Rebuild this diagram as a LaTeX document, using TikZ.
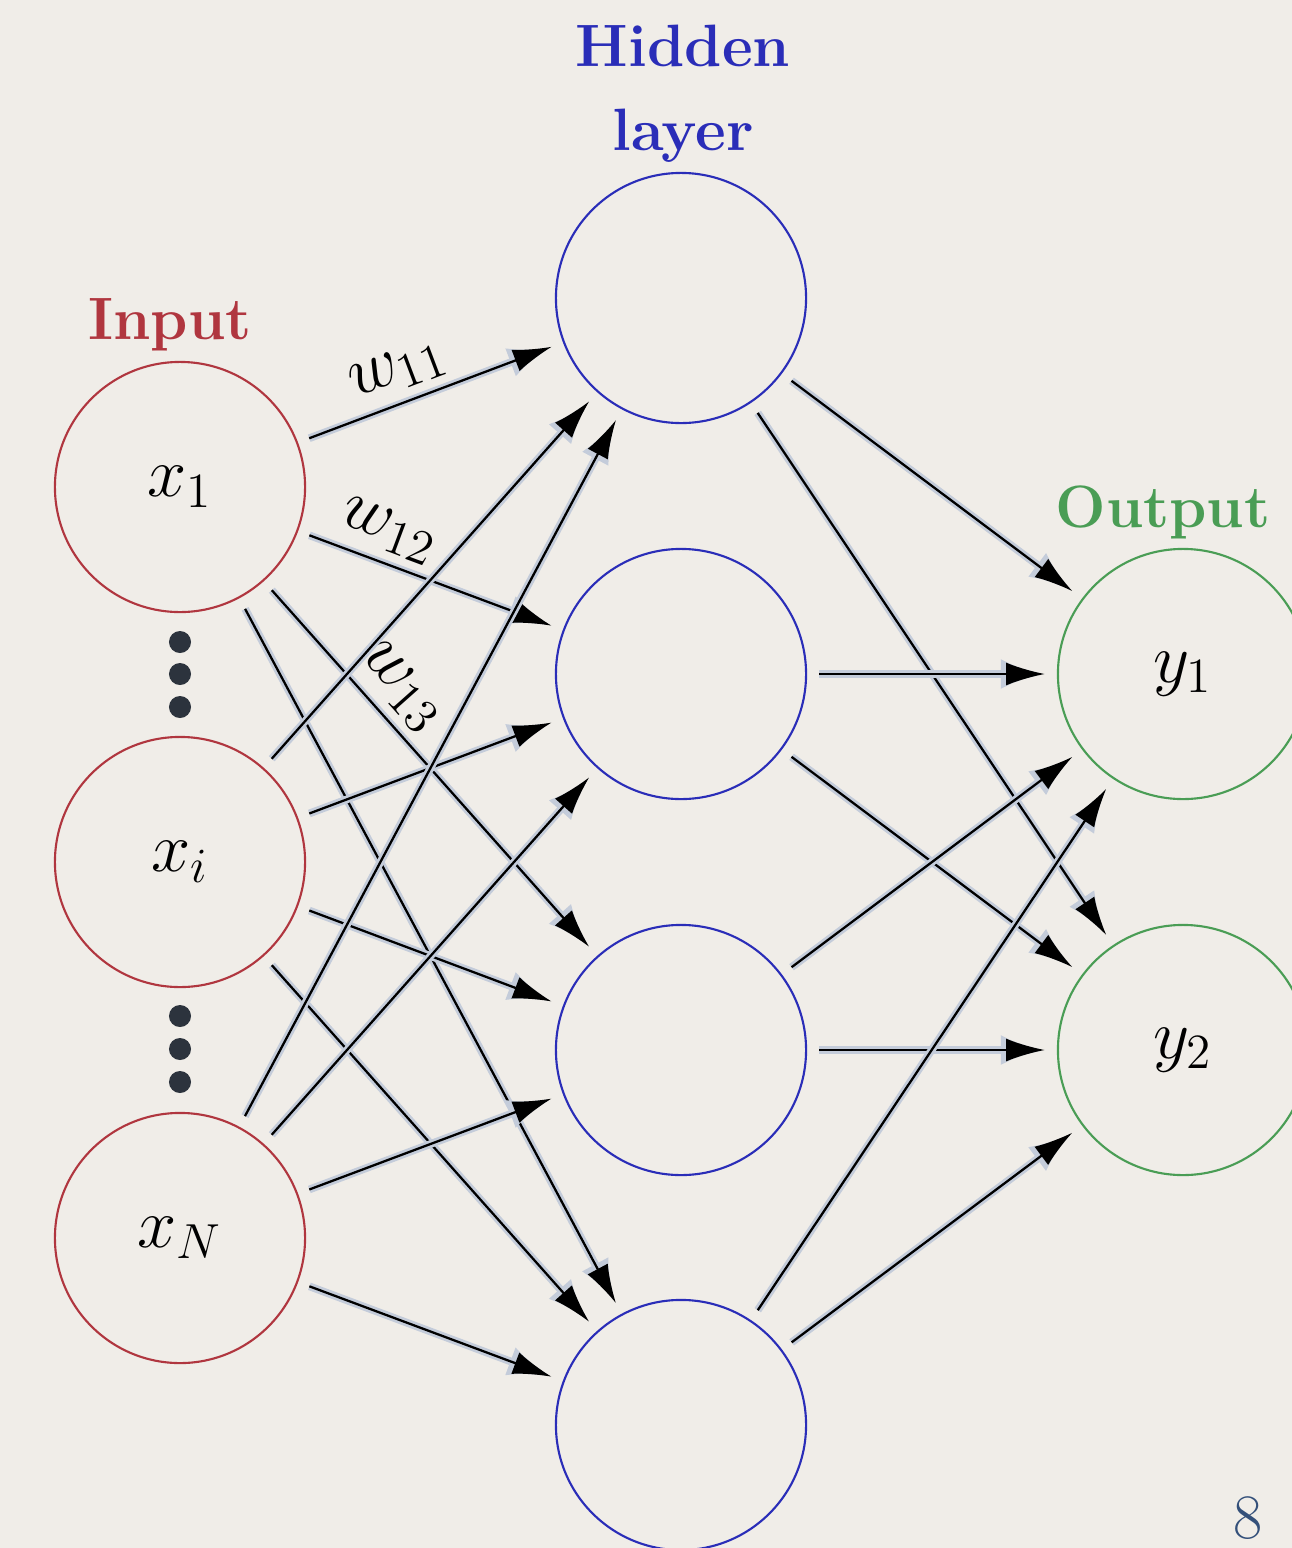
\RequirePackage{fix-cm}
\documentclass[tikz,border=0pt]{standalone}
\usetikzlibrary{arrows.meta}

\definecolor{bgpaper}{HTML}{F0EDE8}
\definecolor{inred}{HTML}{B0363F}
\definecolor{hidblue}{HTML}{2A2DB8}
\definecolor{outgreen}{HTML}{4A9D55}
\definecolor{halo}{HTML}{C4CCDA}
\definecolor{dotgray}{HTML}{2C333D}
\definecolor{pagenum}{HTML}{34507A}

\tikzset{
  neuron/.style={circle, draw, line width=0.6pt, minimum size=2.5cm, inner sep=0pt,
    font=\fontsize{20}{24}\selectfont},
  inneuron/.style={neuron, draw=inred},
  hidneuron/.style={neuron, draw=hidblue},
  outneuron/.style={neuron, draw=outgreen},
  layertitle/.style={font=\fontsize{17}{24}\selectfont\bfseries, align=center},
  link/.style={line width=0.65pt, -{Latex[length=11pt,width=6.5pt]},
    shorten <=0.12cm, shorten >=0.12cm,
    preaction={draw=halo, line width=2.2pt, -{Latex[length=12.5pt,width=8.5pt]}}},
  weight/.style={font=\fontsize{20}{24}\selectfont, sloped, above, inner sep=3pt}
}

\begin{document}
\begin{tikzpicture}[x=0.01cm, y=-0.01cm]
        \fill[bgpaper] (0,0) rectangle (1292,1548);
        \clip (0,0) rectangle (1292,1548);

        % layers
        \node[inneuron] (in1) at (180,487) {$x_1$};
        \node[inneuron] (ini) at (180,862) {$x_i$};
        \node[inneuron] (inN) at (180,1238) {$x_N$};

        \node[hidneuron] (h1) at (681,298) {};
        \node[hidneuron] (h2) at (681,674) {};
        \node[hidneuron] (h3) at (681,1050) {};
        \node[hidneuron] (h4) at (681,1425) {};

        \node[outneuron] (y1) at (1183,674) {$y_1$};
        \node[outneuron] (y2) at (1183,1050) {$y_2$};

        % titles
        \node[layertitle, text=inred] (intitle) at (170,325) {Input};
        \node[layertitle, text=hidblue] (hidtitle) at (683,94) {Hidden\\layer};
        \node[layertitle, text=outgreen] (outtitle) at (1163,512) {Output};

        % dots
        \fill[dotgray] (180,642) circle (0.11cm);
        \fill[dotgray] (180,674) circle (0.11cm);
        \fill[dotgray] (180,707) circle (0.11cm);
        \fill[dotgray] (180,1016) circle (0.11cm);
        \fill[dotgray] (180,1049) circle (0.11cm);
        \fill[dotgray] (180,1082) circle (0.11cm);

        % input -> hidden
        \draw[link] (in1) -- node[weight, pos=0.42] {$w_{11}$} (h1);
        \draw[link] (in1) -- node[weight, pos=0.3] {$w_{12}$} (h2);
        \draw[link] (in1) -- node[weight, pos=0.34] {$w_{13}$} (h3);
        \draw[link] (in1) -- (h4);
        \draw[link] (ini) -- (h1);
        \draw[link] (ini) -- (h2);
        \draw[link] (ini) -- (h3);
        \draw[link] (ini) -- (h4);
        \draw[link] (inN) -- (h1);
        \draw[link] (inN) -- (h2);
        \draw[link] (inN) -- (h3);
        \draw[link] (inN) -- (h4);

        % hidden -> output
        \draw[link] (h1) -- (y1);
        \draw[link] (h1) -- (y2);
        \draw[link] (h2) -- (y1);
        \draw[link] (h2) -- (y2);
        \draw[link] (h3) -- (y1);
        \draw[link] (h3) -- (y2);
        \draw[link] (h4) -- (y1);
        \draw[link] (h4) -- (y2);

        \node[text=pagenum, font=\fontsize{18}{20}\selectfont] (pagenr) at (1248,1518) {8};
\end{tikzpicture}
\end{document}
